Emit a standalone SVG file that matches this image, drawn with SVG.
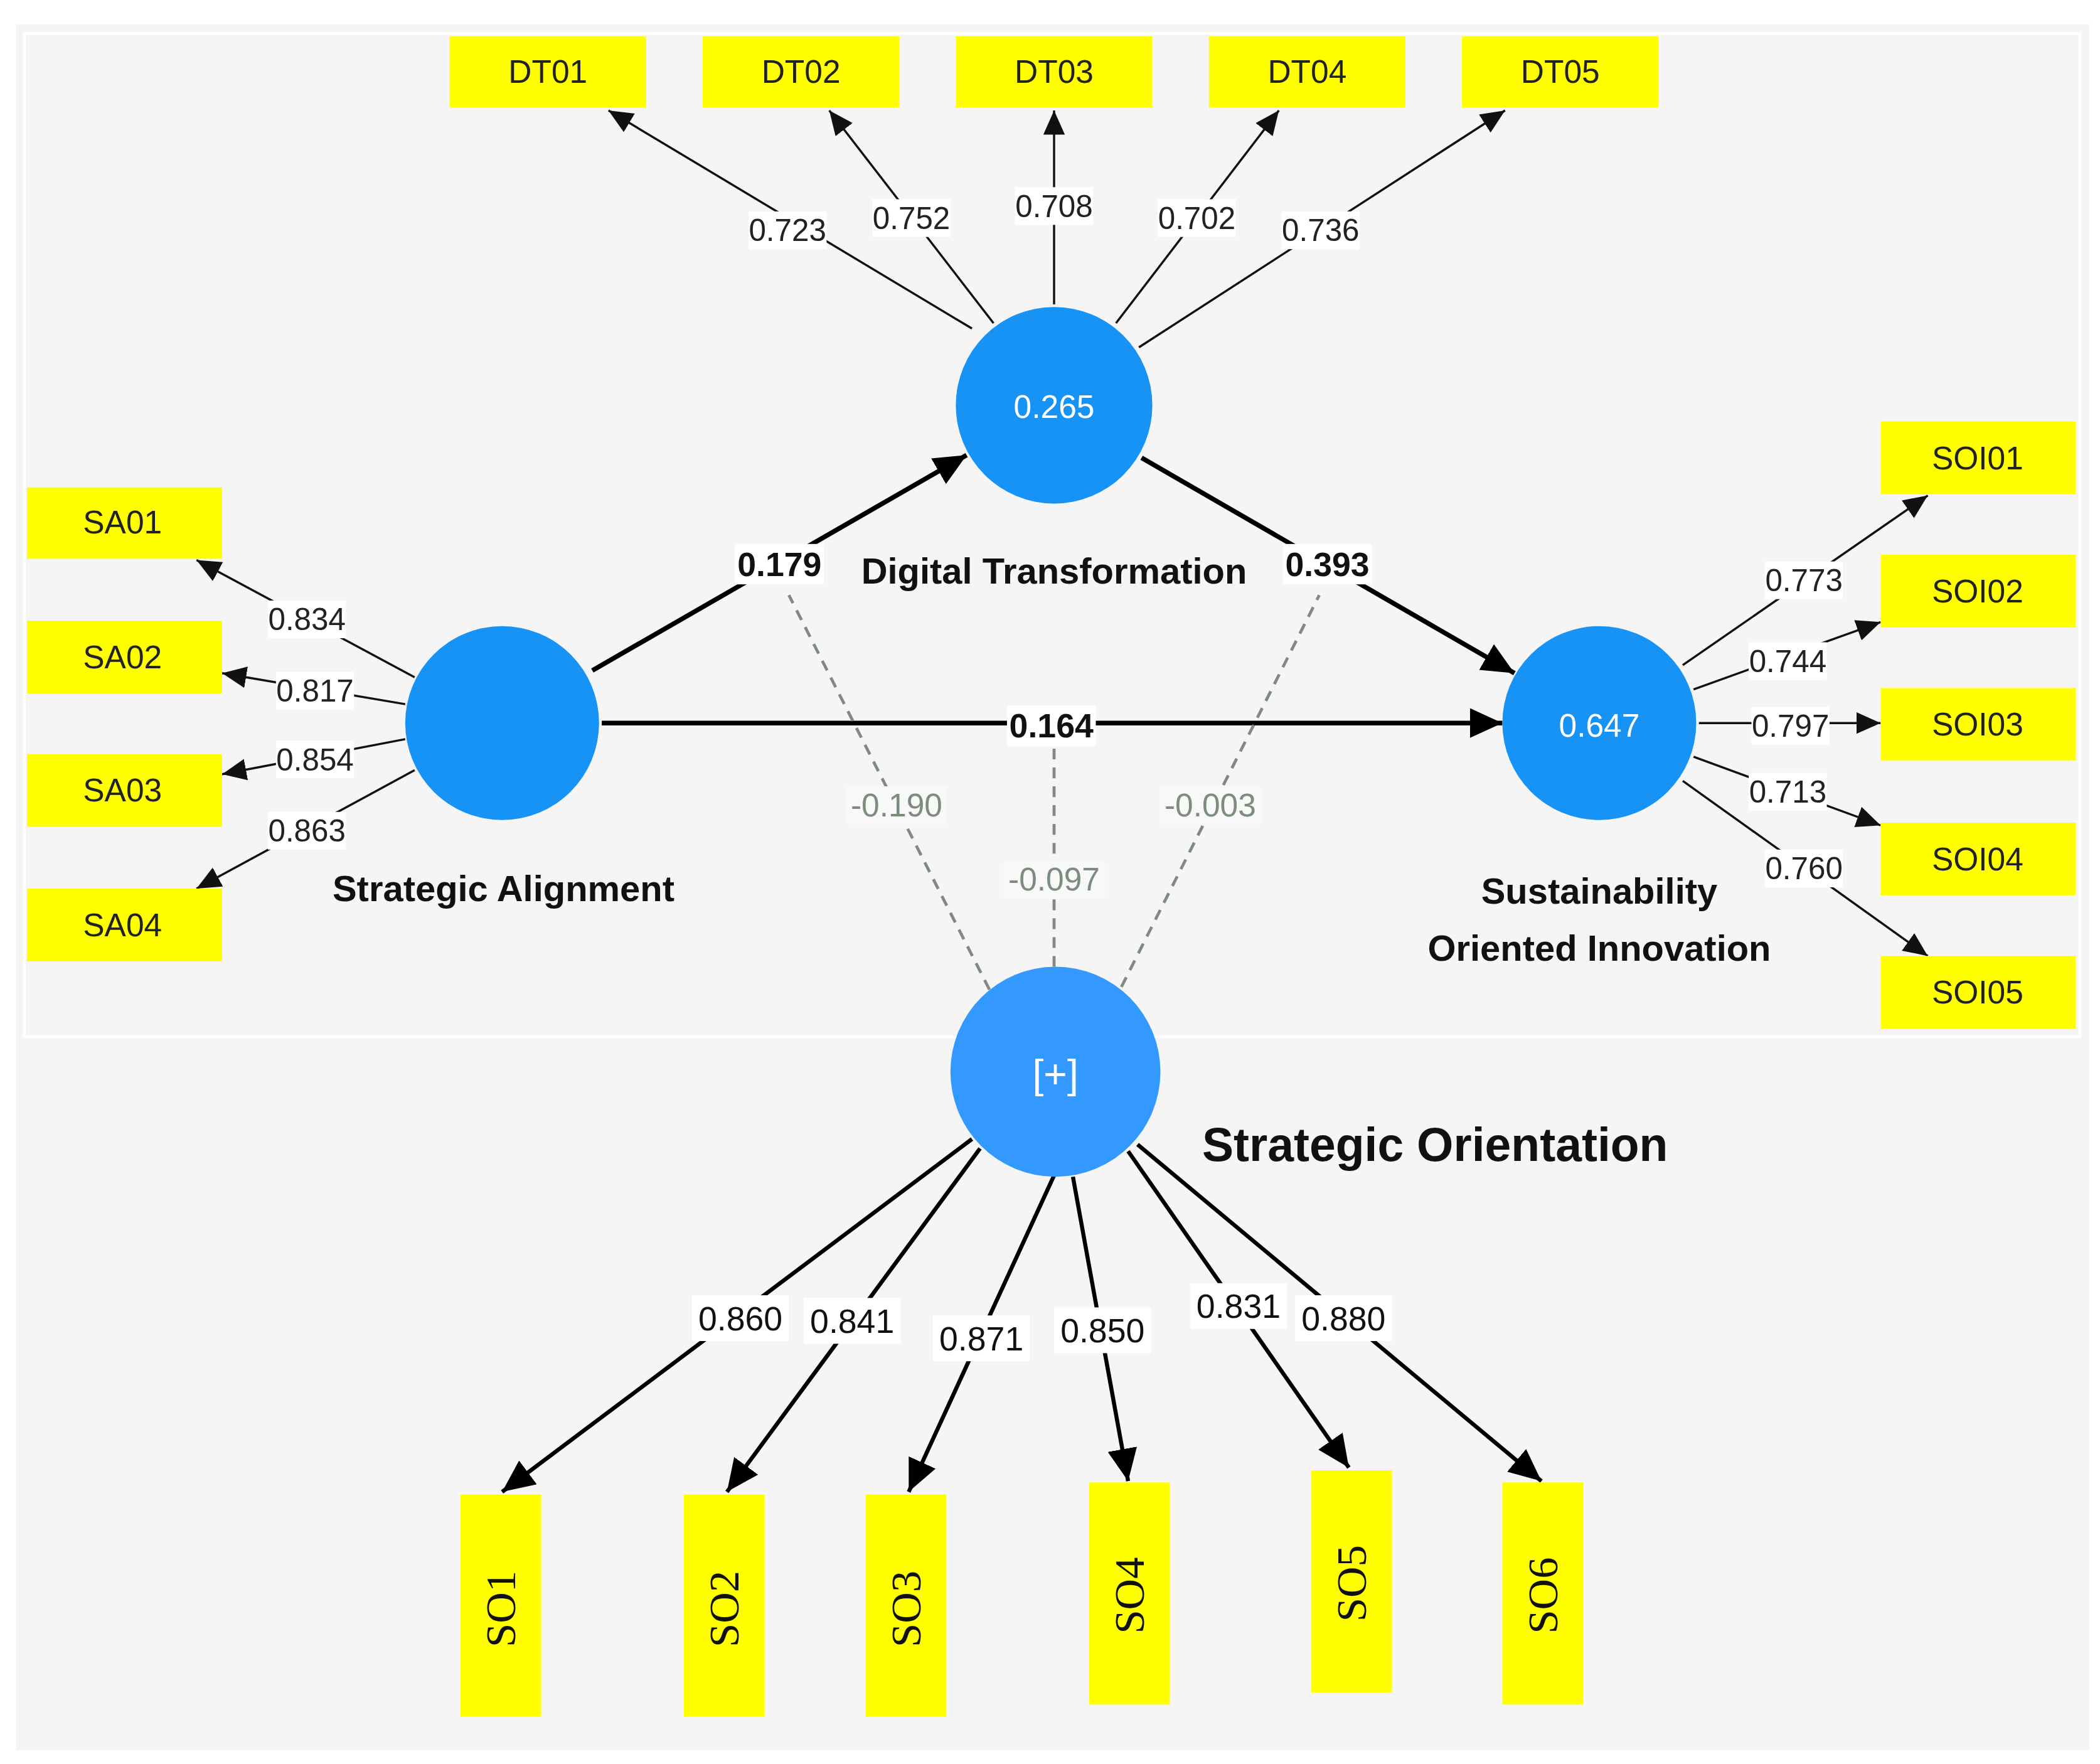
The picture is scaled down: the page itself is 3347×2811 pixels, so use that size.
<svg xmlns="http://www.w3.org/2000/svg" width="3347" height="2811" viewBox="0 0 3347 2811">
<style>
.box{fill:#ffff00}
.bt{font-family:"Liberation Sans",Arial,sans-serif;font-size:24px;fill:#222;text-anchor:middle;dominant-baseline:central}
.so{font-family:"Liberation Serif","Times New Roman",serif;font-size:32px;fill:#111;text-anchor:middle;dominant-baseline:central}
.lat{fill:#1792f5}
.ct{font-family:"Liberation Sans",Arial,sans-serif;font-size:24px;fill:#fff;text-anchor:middle;dominant-baseline:central}
.nm{font-family:"Liberation Sans",Arial,sans-serif;font-size:27px;font-weight:bold;fill:#111;text-anchor:middle;dominant-baseline:central}
.ind{stroke:#111;stroke-width:1.6;fill:none;marker-end:url(#ah)}
.so-l{stroke:#000;stroke-width:3;fill:none;marker-end:url(#ahb)}
.str{stroke:#000;stroke-width:3.5;fill:none;marker-end:url(#ahb)}
.mod{stroke:#7f8a80;stroke-width:2.2;stroke-dasharray:8 6;fill:none}
.lb{font-family:"Liberation Sans",Arial,sans-serif;font-size:23px;fill:#222;text-anchor:middle;dominant-baseline:central}
.lbs{font-family:"Liberation Sans",Arial,sans-serif;font-size:25px;fill:#111;text-anchor:middle;dominant-baseline:central}
.lbb{font-family:"Liberation Sans",Arial,sans-serif;font-size:25px;font-weight:bold;fill:#111;text-anchor:middle;dominant-baseline:central}
.lbm{font-family:"Liberation Sans",Arial,sans-serif;font-size:24px;fill:#7d8c7d;text-anchor:middle;dominant-baseline:central}
.bg{fill:#fff}
.bgm{fill:#f8f8f8}
</style>
<defs>
<marker id="ah" markerWidth="20" markerHeight="20" refX="18" refY="8" orient="auto" markerUnits="userSpaceOnUse"><path d="M0,0 L18,8 L0,16 z" fill="#111"/></marker>
<marker id="ahb" markerWidth="26" markerHeight="24" refX="24" refY="11" orient="auto" markerUnits="userSpaceOnUse"><path d="M0,0 L24,11 L0,22 z" fill="#000"/></marker>
</defs>
<rect width="3347" height="2811" fill="#fff"/>
<g transform="scale(2.1456)">
<rect x="12" y="18" width="1540" height="1282" fill="#f5f5f5"/>
<rect x="18" y="25" width="1527" height="745" fill="#f5f5f5" stroke="#fff" stroke-width="2"/>
<g id="connectors">
<line class="ind" x1="722" y1="244" x2="452" y2="82"/>
<line class="ind" x1="738" y1="240" x2="616" y2="82"/>
<line class="ind" x1="783" y1="226" x2="783" y2="82"/>
<line class="ind" x1="829" y1="240" x2="950" y2="82"/>
<line class="ind" x1="846" y1="258" x2="1118" y2="82"/>
<line class="ind" x1="308" y1="503" x2="146" y2="416"/>
<line class="ind" x1="301" y1="523" x2="165" y2="500"/>
<line class="ind" x1="301" y1="549" x2="165" y2="575"/>
<line class="ind" x1="308" y1="572" x2="146" y2="660"/>
<line class="ind" x1="1250" y1="494" x2="1432" y2="368"/>
<line class="ind" x1="1258" y1="512" x2="1397" y2="462"/>
<line class="ind" x1="1262" y1="537" x2="1397" y2="537"/>
<line class="ind" x1="1258" y1="562" x2="1397" y2="613"/>
<line class="ind" x1="1250" y1="580" x2="1432" y2="710"/>
<line class="str" x1="440" y1="498" x2="718" y2="338"/>
<line class="str" x1="848" y1="340" x2="1125" y2="500"/>
<line class="str" x1="447" y1="537" x2="1116" y2="537"/>
<line class="mod" x1="735" y1="735" x2="586" y2="442"/>
<line class="mod" x1="783" y1="718" x2="783" y2="556"/>
<line class="mod" x1="833" y1="733" x2="980" y2="442"/>
<line class="so-l" x1="722" y1="846" x2="373" y2="1108"/>
<line class="so-l" x1="728" y1="853" x2="540" y2="1108"/>
<line class="so-l" x1="783" y1="873" x2="675" y2="1108"/>
<line class="so-l" x1="797" y1="874" x2="838" y2="1100"/>
<line class="so-l" x1="838" y1="855" x2="1002" y2="1090"/>
<line class="so-l" x1="845" y1="850" x2="1145" y2="1100"/>
<g>
<rect class="bg" x="556" y="157" width="58" height="28"/><text class="lb" x="585" y="171">0.723</text>
<rect class="bg" x="648" y="148" width="58" height="28"/><text class="lb" x="677" y="162">0.752</text>
<rect class="bg" x="754" y="139" width="58" height="28"/><text class="lb" x="783" y="153">0.708</text>
<rect class="bg" x="860" y="148" width="58" height="28"/><text class="lb" x="889" y="162">0.702</text>
<rect class="bg" x="952" y="157" width="58" height="28"/><text class="lb" x="981" y="171">0.736</text>
<rect class="bg" x="199" y="446" width="58" height="28"/><text class="lb" x="228" y="460">0.834</text>
<rect class="bg" x="205" y="499" width="58" height="28"/><text class="lb" x="234" y="513">0.817</text>
<rect class="bg" x="205" y="550" width="58" height="28"/><text class="lb" x="234" y="564">0.854</text>
<rect class="bg" x="199" y="603" width="58" height="28"/><text class="lb" x="228" y="617">0.863</text>
<rect class="bg" x="1311" y="417" width="58" height="28"/><text class="lb" x="1340" y="431">0.773</text>
<rect class="bg" x="1299" y="477" width="58" height="28"/><text class="lb" x="1328" y="491">0.744</text>
<rect class="bg" x="1301" y="525" width="58" height="28"/><text class="lb" x="1330" y="539">0.797</text>
<rect class="bg" x="1299" y="574" width="58" height="28"/><text class="lb" x="1328" y="588">0.713</text>
<rect class="bg" x="1311" y="631" width="58" height="28"/><text class="lb" x="1340" y="645">0.760</text>
<rect class="bg" x="546" y="404" width="66" height="30"/><text class="lbb" x="579" y="419">0.179</text>
<rect class="bg" x="953" y="404" width="66" height="30"/><text class="lbb" x="986" y="419">0.393</text>
<rect class="bg" x="748" y="524" width="66" height="30"/><text class="lbb" x="781" y="539">0.164</text>
<rect class="bgm" x="628" y="584" width="76" height="28"/><text class="lbm" x="666" y="598">-0.190</text>
<rect class="bgm" x="745" y="639" width="76" height="28"/><text class="lbm" x="783" y="653">-0.097</text>
<rect class="bgm" x="861" y="584" width="76" height="28"/><text class="lbm" x="899" y="598">-0.003</text>
<rect class="bg" x="514" y="962" width="72" height="34"/><text class="lbs" x="550" y="979">0.860</text>
<rect class="bg" x="597" y="964" width="72" height="34"/><text class="lbs" x="633" y="981">0.841</text>
<rect class="bg" x="693" y="977" width="72" height="34"/><text class="lbs" x="729" y="994">0.871</text>
<rect class="bg" x="783" y="971" width="72" height="34"/><text class="lbs" x="819" y="988">0.850</text>
<rect class="bg" x="884" y="953" width="72" height="34"/><text class="lbs" x="920" y="970">0.831</text>
<rect class="bg" x="962" y="962" width="72" height="34"/><text class="lbs" x="998" y="979">0.880</text>
</g>
</g>
<g id="DT01"><rect class="box" x="334" y="27" width="146" height="53"/><text class="bt" x="407" y="53">DT01</text></g>
<g id="DT02"><rect class="box" x="522" y="27" width="146" height="53"/><text class="bt" x="595" y="53">DT02</text></g>
<g id="DT03"><rect class="box" x="710" y="27" width="146" height="53"/><text class="bt" x="783" y="53">DT03</text></g>
<g id="DT04"><rect class="box" x="898" y="27" width="146" height="53"/><text class="bt" x="971" y="53">DT04</text></g>
<g id="DT05"><rect class="box" x="1086" y="27" width="146" height="53"/><text class="bt" x="1159" y="53">DT05</text></g>
<g id="SA01"><rect class="box" x="20" y="362" width="145" height="53"/><text class="bt" x="91" y="388">SA01</text></g>
<g id="SA02"><rect class="box" x="20" y="461" width="145" height="54"/><text class="bt" x="91" y="488">SA02</text></g>
<g id="SA03"><rect class="box" x="20" y="560" width="145" height="54"/><text class="bt" x="91" y="587">SA03</text></g>
<g id="SA04"><rect class="box" x="20" y="660" width="145" height="54"/><text class="bt" x="91" y="687">SA04</text></g>
<g id="SOI01"><rect class="box" x="1397" y="313" width="145" height="54"/><text class="bt" x="1469" y="340">SOI01</text></g>
<g id="SOI02"><rect class="box" x="1397" y="412" width="145" height="54"/><text class="bt" x="1469" y="439">SOI02</text></g>
<g id="SOI03"><rect class="box" x="1397" y="511" width="145" height="54"/><text class="bt" x="1469" y="538">SOI03</text></g>
<g id="SOI04"><rect class="box" x="1397" y="611" width="145" height="54"/><text class="bt" x="1469" y="638">SOI04</text></g>
<g id="SOI05"><rect class="box" x="1397" y="710" width="145" height="54"/><text class="bt" x="1469" y="737">SOI05</text></g>
<g id="SO1"><rect class="box" x="342" y="1110" width="60" height="165"/><text class="so" transform="translate(372,1195) rotate(-90)">SO1</text></g>
<g id="SO2"><rect class="box" x="508" y="1110" width="60" height="165"/><text class="so" transform="translate(538,1195) rotate(-90)">SO2</text></g>
<g id="SO3"><rect class="box" x="643" y="1110" width="60" height="165"/><text class="so" transform="translate(673,1195) rotate(-90)">SO3</text></g>
<g id="SO4"><rect class="box" x="809" y="1101" width="60" height="165"/><text class="so" transform="translate(839,1185) rotate(-90)">SO4</text></g>
<g id="SO5"><rect class="box" x="974" y="1092" width="60" height="165"/><text class="so" transform="translate(1004,1176) rotate(-90)">SO5</text></g>
<g id="SO6"><rect class="box" x="1116" y="1101" width="60" height="165"/><text class="so" transform="translate(1146,1185) rotate(-90)">SO6</text></g>
<g id="DT"><circle class="lat" cx="783" cy="301" r="73"/><text class="ct" x="783" y="302">0.265</text><text class="nm" x="783" y="424">Digital Transformation</text></g>
<g id="SA"><circle class="lat" cx="373" cy="537" r="72"/><text class="nm" x="374" y="660">Strategic Alignment</text></g>
<g id="SOI"><circle class="lat" cx="1188" cy="537" r="72"/><text class="ct" x="1188" y="539">0.647</text><text class="nm" x="1188" y="662">Sustainability</text><text class="nm" x="1188" y="704">Oriented Innovation</text></g>
<g id="SO"><circle cx="784" cy="796" r="78" fill="#3399ff"/><text class="ct" x="784" y="798" style="font-size:30px">[+]</text><text class="nm" x="1066" y="850" style="font-size:35px">Strategic Orientation</text></g>
</g>
</svg>
